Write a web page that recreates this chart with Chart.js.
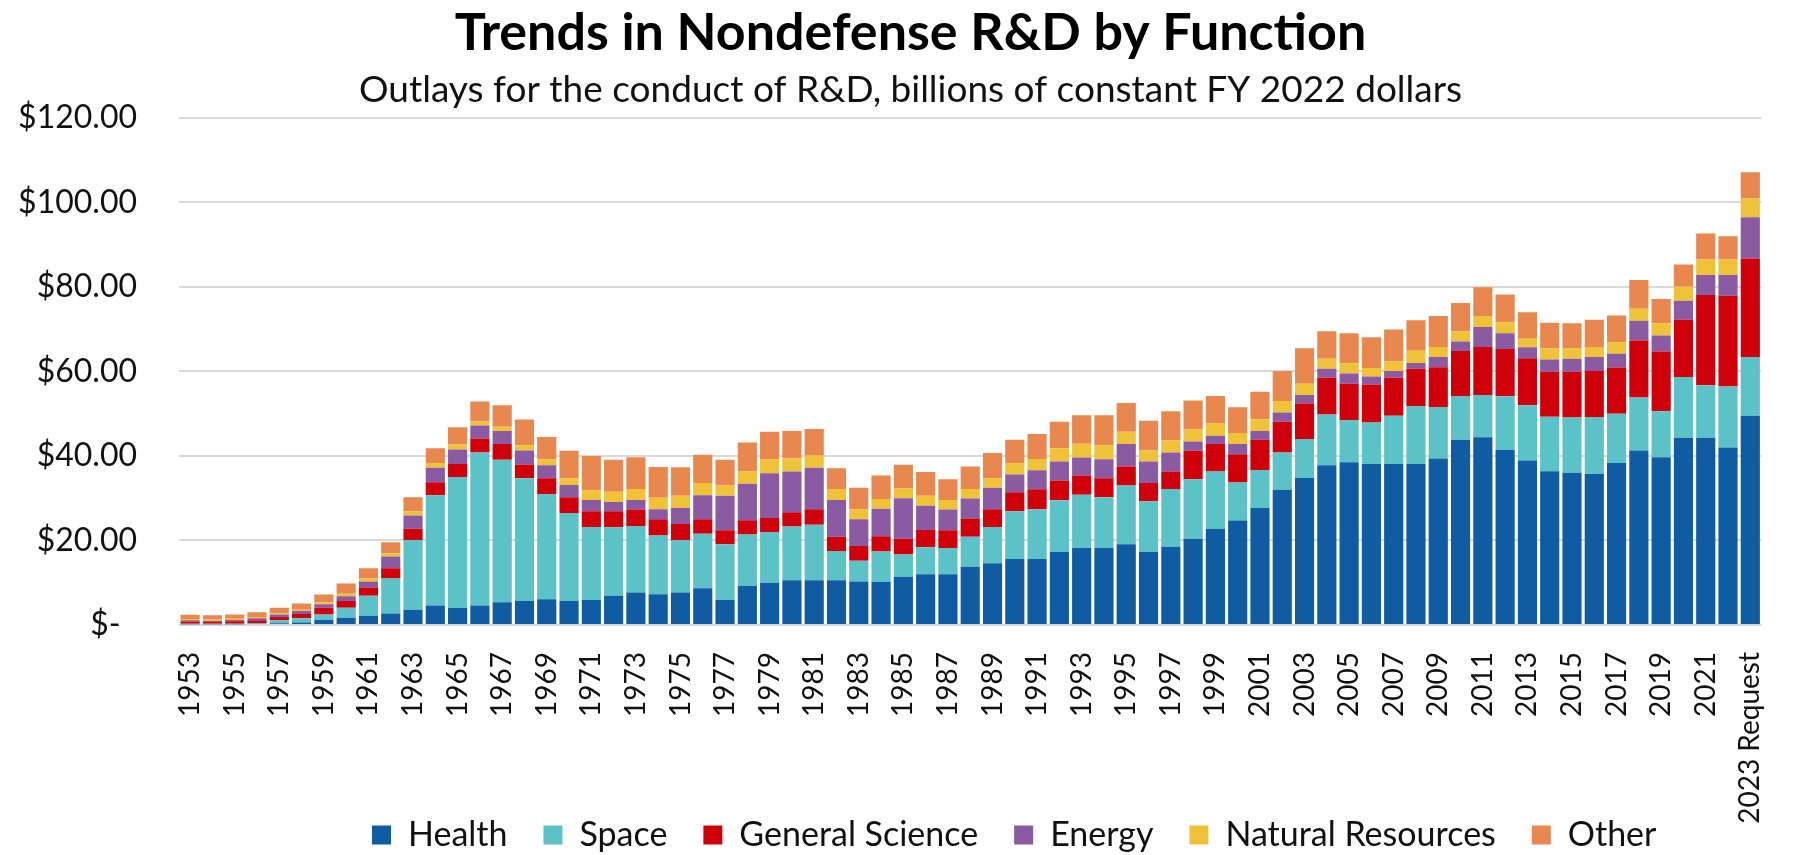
<!DOCTYPE html>
<html>
<head>
<meta charset="utf-8">
<script src="https://cdn.jsdelivr.net/npm/chart.js@4"></script>
<style>
  html, body { margin: 0; padding: 0; background: #ffffff; }
  #wrap { width: 1811px; height: 855px; position: relative; }
</style>
</head>
<body>
<div id="wrap"><canvas id="c" width="1811" height="855"></canvas></div>
<script>
const years = ['1953','1954','1955','1956','1957','1958','1959','1960','1961','1962',
  '1963','1964','1965','1966','1967','1968','1969','1970','1971','1972',
  '1973','1974','1975','1976','1977','1978','1979','1980','1981','1982',
  '1983','1984','1985','1986','1987','1988','1989','1990','1991','1992',
  '1993','1994','1995','1996','1997','1998','1999','2000','2001','2002',
  '2003','2004','2005','2006','2007','2008','2009','2010','2011','2012',
  '2013','2014','2015','2016','2017','2018','2019','2020','2021','2022','2023 Request'];

const health = [0.2,0.2,0.2,0.3,0.4,0.6,1.2,1.7,2.2,2.7,
  3.6,4.6,4.0,4.6,5.4,5.7,6.1,5.7,5.9,6.9,
  7.7,7.3,7.7,8.7,5.9,9.2,10.0,10.6,10.6,10.6,
  10.3,10.2,11.4,12.0,12.0,13.8,14.6,15.6,15.6,17.3,
  18.2,18.2,19.1,17.3,18.5,20.4,22.8,24.7,27.7,32.0,
  34.8,37.8,38.5,38.1,38.1,38.1,39.4,43.8,44.4,41.4,
  38.9,36.4,36.0,35.7,38.3,41.3,39.7,44.3,44.3,42.0,49.5];

const space = [0.1,0.1,0.1,0.2,0.7,1.0,1.3,2.4,4.7,8.3,
  16.5,26.1,31.0,36.2,33.7,29.0,24.9,20.8,17.3,16.2,
  15.7,13.9,12.4,12.9,13.2,12.2,12.0,12.7,13.1,6.9,
  4.9,7.2,5.3,6.4,6.2,7.1,8.6,11.3,11.8,12.2,
  12.6,12.0,13.9,12.0,13.7,14.1,13.5,9.0,9.0,8.8,
  9.2,12.0,10.0,9.8,11.4,13.7,12.2,10.4,10.0,12.7,
  13.1,12.9,13.1,13.5,11.7,12.5,10.9,14.4,12.4,14.4,13.9];

const generalScience = [0.5,0.5,0.6,0.6,0.8,1.0,1.6,1.6,2.0,2.4,
  2.7,3.1,3.1,3.3,3.7,3.3,3.7,3.7,3.7,3.8,
  3.9,3.8,3.8,3.4,3.3,3.4,3.3,3.4,3.7,3.4,
  3.5,3.6,3.7,4.1,4.2,4.3,4.2,4.5,4.7,4.7,
  4.6,4.5,4.5,4.3,4.1,6.7,6.5,6.7,7.1,7.3,
  8.4,8.7,8.6,9.0,9.0,8.8,9.4,10.6,11.4,11.2,
  11.1,10.6,10.8,10.9,10.9,13.5,14.1,13.5,21.4,21.5,23.3];

const energy = [0.3,0.2,0.3,0.5,0.6,0.7,0.8,1.1,1.4,2.8,
  3.1,3.4,3.4,3.1,3.1,3.3,3.1,2.9,2.7,2.2,
  2.3,2.4,3.8,5.7,8.2,8.6,10.6,9.6,9.8,8.7,
  6.3,6.5,9.6,5.7,4.9,4.7,5.1,4.2,4.5,4.5,
  4.2,4.5,5.3,5.1,4.5,2.2,2.0,2.4,2.1,2.2,
  2.0,2.1,2.4,1.9,1.6,1.4,2.4,2.3,4.7,3.7,
  2.6,2.9,3.1,3.3,3.3,4.7,3.8,4.5,4.7,4.9,9.8];

const naturalResources = [0.3,0.3,0.3,0.3,0.3,0.3,0.4,0.6,0.7,0.8,
  1.0,1.1,1.2,1.0,1.0,1.2,1.4,1.6,2.2,2.4,
  2.6,2.7,2.9,2.9,2.4,2.9,3.3,3.1,2.9,2.6,
  2.4,2.3,2.3,2.4,2.3,2.3,2.2,2.7,2.7,3.1,
  3.3,3.3,2.9,2.6,2.9,2.9,2.9,2.6,2.8,2.7,
  2.7,2.4,2.4,2.0,2.3,2.9,2.4,2.4,2.6,2.6,
  2.0,2.7,2.4,2.4,2.7,2.8,2.9,3.3,3.7,3.7,4.4];

const other = [1.0,1.0,1.0,1.1,1.3,1.5,1.9,2.4,2.4,2.6,
  3.3,3.5,4.1,4.7,5.1,6.1,5.3,6.5,8.2,7.6,
  7.5,7.3,6.7,6.7,6.1,6.9,6.5,6.5,6.3,4.9,
  5.1,5.6,5.6,5.6,4.9,5.3,6.0,5.5,5.9,6.3,
  6.7,7.1,6.8,7.0,6.9,6.8,6.5,6.1,6.5,7.1,
  8.4,6.5,7.1,7.3,7.5,7.2,7.3,6.7,6.8,6.6,
  6.3,6.0,6.0,6.4,6.3,6.8,5.7,5.3,6.1,5.5,6.2];

const seriesNames = ['Health','Space','General Science','Energy','Natural Resources','Other'];
const seriesColors = ['#0F5CA3','#5BC3C7','#D0000B','#8A5BA3','#F0C238','#E8874E'];
const yTickValues = [0,20,40,60,80,100,120];

const FONT = 'Lato, "Open Sans", sans-serif';
const seriesData = [health, space, generalScience, energy, naturalResources, other];

// place the legend and titles like the reference and let the long rotated
// "2023 Request" label run down past the legend row without being clipped
const layoutTweaks = {
  id: 'layoutTweaks',
  afterLayout(chart) {
    const lg = chart.legend;
    if (lg) {
      lg.left += 44; lg.right += 44;
      lg.top += 7; lg.bottom += 7;
    }
    chart.boxes.forEach(b => {
      if (b !== lg && b.options && typeof b.options.text === 'string' && b.options.position === 'top') {
        b.left += 12; b.right += 12;
      }
    });
    const x = chart.scales.x;
    if (x) { x.bottom = chart.height; }
  }
};

new Chart(document.getElementById('c'), {
  type: 'bar',
  data: {
    labels: years,
    datasets: seriesNames.map((n, i) => ({
      label: n,
      data: seriesData[i],
      backgroundColor: seriesColors[i],
      borderWidth: 0,
      barPercentage: 0.86,
      categoryPercentage: 1.0
    }))
  },
  plugins: [layoutTweaks],
  options: {
    responsive: false,
    animation: false,
    devicePixelRatio: 1,
    layout: { padding: { left: 0, right: 14, top: 0, bottom: 0 } },
    plugins: {
      tooltip: { enabled: false },
      title: {
        display: true,
        text: 'Trends in Nondefense R&D by Function',
        color: '#000000',
        font: { family: FONT, size: 52, weight: 'bold' },
        padding: { top: 2, bottom: 0 }
      },
      subtitle: {
        display: true,
        text: 'Outlays for the conduct of R&D, billions of constant FY 2022 dollars',
        color: '#111111',
        font: { family: FONT, size: 37 },
        padding: { top: 3, bottom: 6 }
      },
      legend: {
        position: 'bottom',
        fullSize: false,
        labels: {
          color: '#111111',
          font: { family: FONT, size: 34 },
          boxWidth: 19,
          boxHeight: 19,
          padding: 36
        }
      }
    },
    scales: {
      x: {
        stacked: true,
        grid: { display: false, drawTicks: false },
        border: { display: false },
        afterFit: (scale) => { scale.height = 150; },
        ticks: {
          autoSkip: false,
          maxRotation: 90,
          minRotation: 90,
          padding: 27,
          color: '#111111',
          font: { family: FONT, size: 28 },
          callback: function(value, index) {
            return index % 2 === 0 ? years[index] : '';
          }
        }
      },
      y: {
        stacked: true,
        min: 0,
        max: 120,
        afterFit: (scale) => { scale.width = 179; },
        afterBuildTicks: (scale) => { scale.ticks = yTickValues.map(v => ({ value: v })); },
        grid: { color: '#d9d9d9', lineWidth: 2, drawTicks: false },
        border: { display: false },
        ticks: {
          padding: 42,
          color: '#111111',
          font: { family: FONT, size: 32 },
          callback: function(value) {
            return value === 0 ? '$-  ' : '$' + Number(value).toFixed(2);
          }
        }
      }
    }
  }
});
</script>
</body>
</html>
